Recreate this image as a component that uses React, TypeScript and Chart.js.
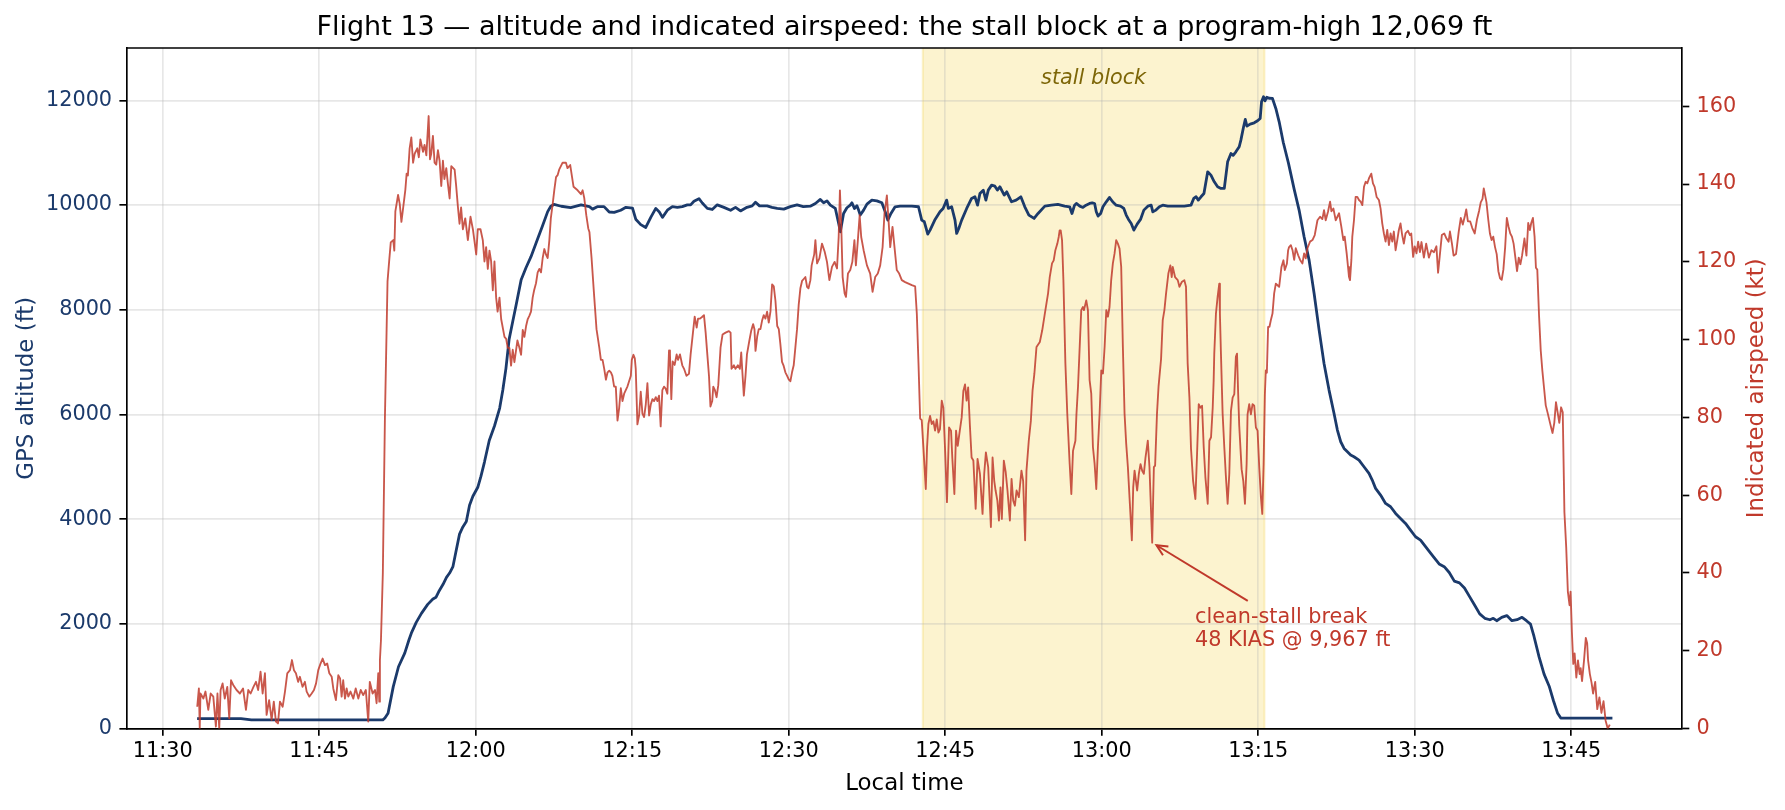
import React, { useEffect, useRef } from "react";
import { Chart, registerables } from "chart.js";

Chart.register(...registerables);

// ---------- data (time = minutes after midnight, local) ----------
const TITLE =
  "Flight 13 — altitude and indicated airspeed: the stall block at a program-high 12,069 ft";
const X_LABEL = "Local time";
const LEFT_LABEL = "GPS altitude (ft)";
const RIGHT_LABEL = "Indicated airspeed (kt)";
const X_TICKS = [690, 705, 720, 735, 750, 765, 780, 795, 810, 825];
const ALT_TICKS = [0, 2000, 4000, 6000, 8000, 10000, 12000];
const IAS_TICKS = [0, 20, 40, 60, 80, 100, 120, 140, 160];
const X_RANGE = [686.55, 835.62];
const ALT_RANGE = [0, 13000];
const IAS_RANGE = [0, 175];
const STALL_BLOCK = [762.85, 795.6];
const STALL_LABEL = "stall block";
const BREAK_POINT = [784.84, 47.8]; // time, KIAS
const BREAK_TEXT = ["clean-stall break", "48 KIAS @ 9,967 ft"];
const BREAK_TEXT_AT = [788.94, 21.2];
const BREAK_ARROW_FROM = [794.0, 32.8];

const ALT: [number, number][] = [
  [693.3, 190], [695, 190], [697.5, 188], [698.5, 165], [702, 163], [706, 163], [711.1, 165],
  [711.3, 200], [711.6, 290], [712.1, 800], [712.6, 1180], [713.2, 1440], [713.6, 1690],
  [713.83, 1821], [714.3, 2027], [714.8, 2200], [715.4, 2371], [715.9, 2475], [716.2, 2509],
  [716.45, 2612], [716.86, 2750], [717.2, 2887], [717.5, 2970], [717.82, 3094], [718.1, 3370],
  [718.45, 3713], [718.77, 3851], [719.1, 3954], [719.41, 4264], [719.73, 4436], [720.2, 4608],
  [720.5, 4815], [720.84, 5090], [721.3, 5503], [721.8, 5779], [722.3, 6122], [722.6, 6467],
  [722.9, 6880], [723.2, 7430], [723.55, 7774], [723.87, 8084], [724.35, 8566], [724.83, 8807],
  [725.3, 9013], [725.94, 9357], [726.4, 9598], [726.9, 9874], [727.2, 9977], [727.5, 10011],
  [728.2, 9977], [729.1, 9950], [730.1, 10004], [730.9, 9970], [731.2, 9922], [731.7, 9970],
  [732.3, 9970], [732.8, 9867], [733.27, 9860], [733.9, 9901], [734.4, 9956], [735.03, 9940],
  [735.34, 9729], [735.82, 9626], [736.3, 9571], [736.78, 9764], [737.26, 9936], [737.6, 9867],
  [737.9, 9764], [738.37, 9901], [738.85, 9970], [739.33, 9956], [739.8, 9970], [740.28, 10004],
  [740.6, 10004], [740.92, 10073], [741.4, 10121], [741.72, 10039], [742.2, 9936], [742.67, 9915],
  [743.15, 10004], [743.79, 9956], [744.43, 9901], [744.9, 9956], [745.38, 9887], [746.0, 9956],
  [746.5, 9984], [746.82, 10053], [747.2, 9984], [747.93, 9984], [748.4, 9956], [748.9, 9936],
  [749.53, 9922], [750.16, 9970], [750.8, 10004], [751.4, 9970], [752.07, 9979], [752.56, 10030],
  [753.03, 10107], [753.35, 10043], [753.67, 10080], [753.99, 9998], [754.47, 9935], [754.79, 9648],
  [754.95, 9489], [755.26, 9839], [755.58, 9948], [755.9, 9998], [756.06, 10043], [756.3, 9935],
  [756.54, 9986], [756.7, 9903], [756.86, 9808], [757.18, 9903], [757.5, 10018], [757.97, 10094],
  [758.45, 10080], [758.93, 10043], [759.25, 9871], [759.5, 9712], [759.8, 9839], [760.2, 9967],
  [760.68, 9979], [761.8, 9979], [762.44, 9967], [762.75, 9712], [763.0, 9680], [763.33, 9445],
  [763.55, 9521], [764.0, 9712], [764.5, 9871], [764.8, 9935], [765.14, 10094], [765.3, 9935],
  [765.62, 9967], [765.94, 9712], [766.1, 9457], [766.3, 9553], [766.58, 9712], [767.06, 9935],
  [767.53, 10126], [767.85, 10158], [768.1, 9998], [768.33, 10221], [768.65, 10285], [768.9, 10094],
  [769.13, 10285], [769.45, 10380], [769.76, 10360], [770.0, 10285], [770.24, 10349], [770.66, 10190],
  [770.9, 10253], [771.36, 10062], [771.8, 10094], [772.25, 10158], [772.63, 9967], [773.02, 9808],
  [773.52, 9744], [773.9, 9839], [774.55, 9979], [775.18, 9998], [775.8, 10011], [776.45, 9979],
  [776.93, 9967], [777.15, 9839], [777.4, 9998], [777.57, 10030], [777.9, 9979], [778.2, 9954],
  [778.5, 9998], [778.84, 10030], [779.1, 10043], [779.32, 10030], [779.48, 9871], [779.65, 9789],
  [779.9, 9839], [780.12, 9967], [780.44, 10062], [780.75, 10145], [781.05, 10062], [781.39, 9998],
  [781.8, 9979], [782.12, 9935], [782.35, 9808], [782.57, 9725], [782.83, 9648], [783.08, 9521],
  [783.4, 9636], [783.72, 9725], [784.04, 9903], [784.42, 9979], [784.74, 9998], [784.9, 9871],
  [785.2, 9903], [785.53, 9967], [785.85, 9998], [786.33, 9979], [786.81, 9979], [787.29, 9979],
  [787.92, 9979], [788.56, 9998], [788.82, 10126], [789.05, 10158], [789.26, 10094], [789.52, 10158],
  [789.8, 10221], [790.16, 10635], [790.47, 10571], [790.79, 10444], [791.11, 10349], [791.43, 10317],
  [791.75, 10317], [792.07, 10826], [792.39, 10985], [792.6, 10950], [792.86, 11017], [793.18, 11113],
  [793.34, 11240], [793.6, 11495], [793.76, 11635], [793.92, 11507], [794.23, 11546], [794.62, 11571],
  [794.94, 11609], [795.19, 11654], [795.32, 11972], [795.51, 12069], [795.65, 11990], [795.83, 12060],
  [796.05, 12040], [796.37, 12036], [796.69, 11845], [797.01, 11590], [797.4, 11200], [797.9, 10800],
  [798.45, 10300], [798.92, 9903], [799.4, 9394], [799.88, 8948], [800.36, 8311], [800.84, 7611],
  [801.31, 6974], [801.79, 6465], [802.27, 6019], [802.59, 5701], [802.91, 5478], [803.23, 5351],
  [803.55, 5287], [803.86, 5223], [804.18, 5191], [804.66, 5127], [805.14, 5000], [805.62, 4873],
  [805.93, 4746], [806.25, 4587], [806.73, 4459], [807.21, 4300], [807.69, 4236], [808.17, 4109],
  [808.64, 4013], [809.12, 3918], [809.6, 3791], [810.08, 3663], [810.56, 3600], [811.04, 3473],
  [811.69, 3308], [812.34, 3144], [812.83, 3091], [813.31, 2980], [813.8, 2815], [814.29, 2782],
  [814.77, 2684], [815.26, 2519], [815.75, 2354], [816.23, 2190], [816.72, 2105], [817.21, 2078],
  [817.53, 2105], [817.86, 2059], [818.34, 2124], [818.83, 2157], [819.32, 2059], [819.81, 2078],
  [820.29, 2124], [820.71, 2059], [821.1, 1993], [821.43, 1763], [821.92, 1368], [822.4, 1039],
  [822.89, 808], [823.3, 530], [823.7, 290], [824.0, 200], [826, 200], [828.95, 200],
];

const IAS: [number, number][] = [
  [693.31, 5.6], [693.47, 10.3], [693.55, 0], [693.62, 9], [693.9, 7.7], [694.1, 9.5], [694.37, 4.8],
  [694.6, 9], [694.85, 8.2], [695.1, 0.5], [695.25, 9], [695.42, 0], [695.55, 9.9], [695.74, 11.6],
  [695.95, 7.7], [696.19, 10.7], [696.38, 2.6], [696.55, 12.4], [696.76, 11.2], [697.08, 9.9],
  [697.4, 9], [697.7, 10.3], [697.98, 4.8], [698.2, 9.9], [698.43, 9], [698.7, 10.7], [698.94, 12],
  [699.15, 9.9], [699.38, 14.6], [699.58, 9], [699.8, 14.2], [699.96, 3.5], [700.2, 7.3], [700.44, 2.2],
  [700.65, 6.9], [700.85, 1.8], [701.05, 1.3], [701.24, 6.9], [701.5, 5.6], [701.72, 9.5], [701.94, 14.2],
  [702.2, 15], [702.39, 17.6], [702.58, 15], [702.77, 14.2], [702.98, 12], [703.15, 13.3], [703.4, 10.7],
  [703.63, 12], [703.8, 9.5], [704.05, 8.2], [704.28, 9], [704.5, 9.9], [704.7, 11.6], [704.91, 15],
  [705.13, 16.7], [705.33, 18], [705.55, 16.3], [705.77, 16.7], [705.97, 14.2], [706.2, 13.3],
  [706.35, 10.3], [706.6, 7.3], [706.83, 13.7], [707.0, 12.9], [707.15, 8.2], [707.3, 12.4],
  [707.47, 7.7], [707.63, 10.3], [707.79, 8.2], [708.0, 9.5], [708.27, 7.7], [708.5, 10.3],
  [708.75, 7.7], [708.98, 9.9], [709.22, 8.6], [709.47, 9.9], [709.7, 1.8], [709.85, 12], [710.12, 9],
  [710.35, 9.9], [710.5, 6.5], [710.66, 14.2], [710.76, 6.9], [710.82, 17.6], [710.92, 22.7],
  [711.1, 40], [711.3, 80], [711.55, 115], [711.7, 120], [711.86, 125], [712.1, 125.6], [712.2, 122.9],
  [712.3, 133], [712.56, 137.2], [712.72, 134.9], [712.88, 130.3], [713.07, 134.4], [713.26, 138.6],
  [713.38, 142.7], [713.5, 142.2], [713.67, 149.2], [713.83, 152], [714.0, 145.5], [714.15, 147.8],
  [714.4, 149.2], [714.55, 146.9], [714.7, 151.5], [714.95, 148.3], [715.1, 150.1], [715.27, 147.4],
  [715.49, 157.5], [715.62, 146.4], [715.74, 147.8], [715.9, 152.4], [716.06, 145.5], [716.22, 145],
  [716.38, 148.7], [716.54, 146], [716.7, 139.5], [716.86, 146], [717.0, 141.3], [717.18, 144.1],
  [717.34, 140], [717.5, 136.3], [717.66, 144.6], [717.98, 143.7], [718.13, 139.5], [718.3, 134],
  [718.45, 129.8], [718.6, 134], [718.77, 128.4], [719.0, 131.2], [719.25, 125.6], [719.5, 131.6],
  [719.73, 128.4], [719.89, 125.2], [720.05, 121.9], [720.2, 128.4], [720.46, 128.4], [720.68, 125.6],
  [720.84, 120.1], [721.0, 123.8], [721.16, 118.2], [721.32, 122.9], [721.48, 120.1], [721.64, 112.7],
  [721.8, 120.1], [721.96, 110.8], [722.1, 107.2], [722.28, 110.8], [722.44, 105.3], [722.76, 100.7],
  [722.92, 100.2], [723.07, 97.9], [723.23, 97.9], [723.39, 93.3], [723.55, 97.4], [723.71, 94.2],
  [724.0, 99.8], [724.19, 97.9], [724.35, 96.1], [724.51, 102.5], [724.67, 100.7], [724.83, 103.5],
  [724.99, 105.3], [725.15, 106.2], [725.3, 107.2], [725.46, 110.8], [725.6, 112.7], [725.78, 114.5],
  [725.94, 117.3], [726.1, 118.2], [726.26, 117.3], [726.42, 121], [726.58, 123.3], [726.74, 121.9],
  [726.9, 121], [727.06, 125.6], [727.2, 131.2], [727.38, 134.9], [727.54, 138.6], [727.7, 141.8],
  [727.85, 142.3], [728.0, 143.7], [728.33, 145.5], [728.65, 145.5], [728.8, 144.1], [729.06, 144.9],
  [729.38, 139.3], [729.77, 138.4], [730.09, 137.4], [730.25, 138.4], [730.4, 136.5], [730.6, 132],
  [730.79, 128.6], [730.9, 127.7], [731.1, 121.2], [731.36, 111], [731.58, 102.7], [731.84, 98.1],
  [732.0, 94.8], [732.16, 94.8], [732.32, 92.5], [732.48, 89.7], [732.64, 91.6], [732.8, 92],
  [732.96, 91.6], [733.1, 90.7], [733.27, 87.9], [733.43, 87.9], [733.59, 79.2], [733.75, 82.4],
  [733.91, 87.5], [734.07, 84.2], [734.23, 86.1], [734.55, 88], [734.87, 90.7], [734.96, 94.8],
  [735.12, 96.1], [735.25, 95.2], [735.34, 92.5], [735.5, 78.2], [735.66, 80.5], [735.82, 86.6],
  [735.98, 81], [736.14, 80.1], [736.3, 83.3], [736.46, 88.8], [736.62, 80.5], [736.78, 83.3],
  [736.94, 84.7], [737.1, 84.2], [737.26, 85.2], [737.42, 84.2], [737.57, 85.6], [737.73, 77.7],
  [737.89, 87], [738.05, 87.9], [738.21, 87.4], [738.37, 86.1], [738.53, 97.2], [738.62, 96.3],
  [738.75, 84.7], [738.88, 94.4], [739.07, 93.5], [739.26, 96.2], [739.39, 94.8], [739.58, 96.2],
  [739.8, 93.4], [739.97, 92.5], [740.2, 90.7], [740.44, 91.2], [740.6, 96.2], [740.86, 102.7],
  [740.99, 105.9], [741.18, 103.1], [741.31, 105.4], [741.5, 105.4], [741.72, 105.9], [741.88, 106.3],
  [742.04, 101.8], [742.2, 96.2], [742.36, 90.7], [742.5, 82.8], [742.67, 84.2], [742.77, 87.9],
  [742.93, 87], [743.09, 85.2], [743.25, 88.3], [743.47, 98], [743.66, 101.3], [743.95, 101.8],
  [744.27, 102.2], [744.43, 101.8], [744.52, 92.5], [744.75, 93.4], [744.9, 92.5], [745.13, 93.4],
  [745.32, 92.5], [745.45, 96.7], [745.54, 92.5], [745.7, 85.6], [745.86, 90.7], [746.0, 96.2],
  [746.24, 99.9], [746.4, 102.2], [746.59, 104], [746.72, 102.7], [746.82, 97.1], [746.98, 100.8],
  [747.13, 102.7], [747.29, 102.7], [747.45, 104.9], [747.61, 106.3], [747.77, 105.4], [747.93, 107.2],
  [748.09, 104.4], [748.25, 107.2], [748.41, 114.2], [748.57, 113.7], [748.73, 110], [748.9, 103.5],
  [749.05, 102.7], [749.2, 98.9], [749.36, 94.3], [749.5, 93.4], [749.68, 91.6], [749.85, 90.7],
  [750.0, 89.8], [750.16, 89.3], [750.32, 91.6], [750.48, 93.4], [750.64, 98], [750.8, 102.7],
  [750.96, 109], [751.12, 113.2], [751.28, 115.1], [751.44, 115.6], [751.6, 116.1], [751.76, 113.6],
  [751.9, 113.2], [752.08, 115.3], [752.2, 119.1], [752.45, 122], [752.56, 125.6], [752.72, 119.6],
  [752.94, 120.9], [753.19, 124.7], [753.45, 122.6], [753.67, 120], [753.9, 115.3], [754.15, 118.7],
  [754.4, 120], [754.63, 118.3], [754.79, 126.4], [754.91, 138.4], [755.04, 129], [755.17, 116.1],
  [755.36, 111.9], [755.49, 111], [755.68, 117], [755.9, 117.9], [756.1, 120], [756.3, 125.6],
  [756.44, 119.1], [756.63, 125.6], [756.8, 132], [756.95, 126.4], [757.18, 123], [757.5, 119.1],
  [757.81, 117], [758.04, 112.3], [758.29, 116.1], [758.54, 117], [758.77, 119.1], [759.0, 123.8],
  [759.18, 132.4], [759.41, 137.1], [759.57, 130.7], [759.73, 123.8], [759.95, 129], [760.14, 123.8],
  [760.36, 117.9], [760.59, 117], [760.84, 115.3], [761.16, 114.8], [761.48, 114.4], [761.8, 114],
  [762.12, 113.7], [762.28, 106.7], [762.44, 93.9], [762.6, 79.7], [762.75, 79.3], [762.91, 72.3],
  [763.14, 61.6], [763.26, 72.3], [763.39, 78.3], [763.55, 80.4], [763.71, 78.3], [763.87, 79],
  [764.03, 76.6], [764.19, 79.5], [764.35, 76.1], [764.5, 77], [764.67, 84.3], [764.82, 82.5],
  [764.98, 72.3], [765.17, 58.2], [765.37, 77.4], [765.56, 76.6], [765.68, 69.7], [765.88, 60.3],
  [766.04, 76.6], [766.2, 72.7], [766.42, 77], [766.58, 80], [766.74, 86.8], [766.9, 88.5],
  [767.05, 84.3], [767.2, 87.7], [767.37, 77.8], [767.53, 69.7], [767.7, 68.9], [767.92, 56.5],
  [768.1, 69.3], [768.33, 65.5], [768.58, 55.2], [768.74, 65.5], [768.9, 71], [769.12, 67.2],
  [769.38, 51.8], [769.54, 69.7], [769.7, 63.7], [769.83, 61.2], [770.0, 58.6], [770.15, 53.5],
  [770.3, 62], [770.43, 53.9], [770.62, 68.9], [770.8, 65.9], [770.97, 61.2], [771.2, 53.5],
  [771.36, 64.2], [771.52, 58.6], [771.68, 57.3], [771.84, 61.2], [772.06, 59.5], [772.31, 66.3],
  [772.47, 63.7], [772.66, 48.4], [772.79, 66.3], [773.01, 74], [773.21, 79.1], [773.37, 86.8],
  [773.55, 91.3], [773.75, 98.1], [774.07, 99.4], [774.3, 102.4], [774.55, 106.7], [774.86, 111.9],
  [775.02, 116.1], [775.24, 119.6], [775.4, 120.4], [775.56, 123], [775.75, 124.7], [775.88, 126.4],
  [775.97, 128.1], [776.07, 128.1], [776.2, 125.6], [776.33, 115.3], [776.52, 93.9], [776.7, 81],
  [776.93, 68.1], [777.09, 60.3], [777.25, 71.4], [777.48, 74], [777.58, 80.8], [777.73, 87.9],
  [777.89, 98.1], [778.04, 107.6], [778.2, 108.4], [778.3, 107.6], [778.52, 110.1], [778.68, 107.6],
  [778.84, 89.6], [779.0, 86.1], [779.16, 72.4], [779.32, 68.1], [779.48, 61.6], [779.64, 72.4],
  [779.8, 81], [779.96, 92.1], [780.12, 91.3], [780.28, 98.1], [780.44, 107.6], [780.6, 105.9],
  [780.75, 108.4], [780.91, 115.3], [781.07, 119.6], [781.23, 122.1], [781.39, 125.6], [781.55, 124.7],
  [781.71, 123.4], [781.87, 118.7], [782.03, 98.1], [782.19, 81], [782.35, 73.2], [782.51, 67.2],
  [782.7, 57.8], [782.89, 48.4], [783.02, 62], [783.15, 66.3], [783.28, 63.7], [783.4, 61.2],
  [783.56, 65.5], [783.72, 68], [783.88, 66.3], [784.04, 65.5], [784.2, 69.7], [784.42, 74],
  [784.58, 67.2], [784.68, 59.5], [784.84, 47.8], [785.0, 67.2], [785.12, 67.6], [785.3, 81],
  [785.45, 88], [785.69, 95], [785.85, 105], [786.01, 107.6], [786.17, 111.9], [786.39, 117],
  [786.58, 119.1], [786.71, 116.1], [786.81, 118.7], [787.03, 116.1], [787.29, 115.3], [787.45, 113.6],
  [787.67, 114.8], [787.92, 115.3], [788.08, 113.6], [788.24, 93.9], [788.41, 85], [788.56, 72],
  [788.76, 63.7], [788.98, 59], [789.14, 70.6], [789.3, 83.4], [789.46, 82.5], [789.62, 83],
  [789.78, 72.3], [789.94, 64.6], [790.16, 57.8], [790.32, 74], [790.48, 74.9], [790.64, 82.5],
  [790.73, 89.4], [790.79, 96.4], [790.95, 106.7], [791.11, 111], [791.27, 114.4], [791.33, 106.7],
  [791.43, 96.4], [791.59, 81], [791.75, 72.4], [791.9, 65], [792.07, 57.8], [792.23, 65.5],
  [792.39, 81.7], [792.55, 85.1], [792.71, 86], [792.86, 95.6], [792.97, 96.4], [793.08, 86.1],
  [793.18, 78], [793.41, 66.7], [793.57, 63.7], [793.73, 57.8], [793.89, 68], [793.98, 80.8],
  [794.14, 83.4], [794.3, 80.8], [794.46, 83.4], [794.62, 83], [794.78, 77.4], [794.94, 76.6],
  [795.1, 67.2], [795.26, 59.5], [795.39, 55.2], [795.52, 68], [795.64, 86], [795.73, 92.1],
  [795.83, 91.5], [795.95, 103.3], [796.08, 103.3], [796.21, 105], [796.37, 106.7], [796.53, 111.9],
  [796.69, 114.4], [796.85, 114], [797.01, 113.6], [797.23, 118.7], [797.42, 120.4], [797.55, 117.9],
  [797.75, 119.5], [797.87, 123], [797.96, 123.8], [798.13, 124.3], [798.29, 123], [798.45, 120.5],
  [798.6, 123.5], [798.83, 121.7], [799.02, 120.5], [799.24, 119.6], [799.4, 122.2], [799.56, 120.9],
  [799.72, 123.5], [799.97, 125.2], [800.2, 125.6], [800.42, 126.9], [800.68, 130.7], [800.93, 131.6],
  [801.15, 131], [801.31, 133.3], [801.47, 130.7], [801.69, 132.9], [801.89, 135.5], [802.02, 133],
  [802.21, 133.7], [802.43, 130.7], [802.59, 131.6], [802.75, 132.5], [802.97, 129], [803.16, 125.6],
  [803.29, 126.5], [803.48, 122.2], [803.61, 118.7], [803.7, 116.2], [803.8, 115.3], [803.93, 120.5],
  [804.02, 126.5], [804.18, 130.7], [804.34, 136.7], [804.5, 136.7], [804.66, 135.9], [804.82, 135.5],
  [804.98, 134.6], [805.14, 139.3], [805.3, 140.6], [805.46, 140.2], [805.62, 141.5], [805.84, 142.7],
  [806.0, 140.2], [806.16, 139.3], [806.35, 136.7], [806.57, 135.9], [806.73, 133.7], [806.89, 129.9],
  [807.05, 127.3], [807.21, 125.2], [807.37, 128.2], [807.53, 124.3], [807.69, 127.3], [807.85, 125.2],
  [808.0, 127.8], [808.17, 123], [808.33, 125.6], [808.48, 128.2], [808.64, 129.9], [808.8, 126.9],
  [808.96, 124.7], [809.12, 127.3], [809.35, 128], [809.54, 126.9], [809.67, 127.3], [809.85, 121.3],
  [810.0, 124], [810.17, 122.2], [810.33, 125.2], [810.5, 122.5], [810.65, 125.1], [810.88, 121.1],
  [811.1, 124.7], [811.36, 121.1], [811.6, 123], [811.85, 122.5], [812.08, 124], [812.24, 117.2],
  [812.4, 121.5], [812.6, 126.9], [812.83, 127.3], [813.05, 126], [813.25, 125.2], [813.38, 127.8],
  [813.57, 124.7], [813.73, 121.6], [813.96, 122], [814.22, 127.8], [814.42, 131.3], [814.61, 129.6],
  [814.81, 131.8], [814.94, 133.5], [815.1, 130.4], [815.32, 130.4], [815.52, 128.7], [815.75, 127.3],
  [815.97, 130.9], [816.17, 133.1], [816.33, 135.3], [816.5, 136.2], [816.62, 138.9], [816.75, 137.1],
  [816.88, 135.3], [817.05, 130.9], [817.21, 127.3], [817.37, 125.6], [817.53, 126.5], [817.7, 123.8],
  [817.86, 122], [818.02, 117.6], [818.18, 115.8], [818.34, 115.4], [818.5, 118], [818.67, 123.8],
  [818.83, 131.3], [818.99, 129.1], [819.16, 127.3], [819.32, 126.5], [819.48, 124.7], [819.65, 121.1],
  [819.81, 117.6], [819.97, 121.1], [820.13, 119.4], [820.29, 121.6], [820.52, 126], [820.71, 121.6],
  [820.88, 130], [821.04, 128.2], [821.17, 130], [821.33, 131.3], [821.49, 126.5], [821.62, 118.5],
  [821.75, 118], [821.92, 106.1], [822.08, 97.2], [822.24, 91.9], [822.4, 87.5], [822.56, 83.1],
  [822.73, 81.3], [822.89, 79.5], [823.05, 77.7], [823.21, 76], [823.38, 78.6], [823.54, 83.9],
  [823.7, 81.3], [823.86, 78.6], [824.03, 82.6], [824.19, 81.3], [824.35, 55.6], [824.52, 46.7],
  [824.68, 35.2], [824.84, 31.7], [824.94, 35.2], [825.07, 24.6], [825.2, 16.6], [825.33, 19.3],
  [825.49, 13.1], [825.65, 17.5], [825.81, 14], [825.91, 15.5], [826.04, 12.2], [826.23, 17.5],
  [826.4, 23.3], [826.53, 21.9], [826.62, 17.5], [826.79, 14], [826.95, 11.8], [827.1, 9],
  [827.3, 12], [827.5, 5], [827.7, 8], [827.9, 4], [828.1, 7], [828.3, 2], [828.5, 0], [828.7, 1],
];

// ---------- styles ----------
const FONT = "'DejaVu Sans', 'Liberation Sans', sans-serif";
const BLUE = "#1b3a6b";
const RED_LINE = "rgba(192,57,43,0.85)";
const RED_TEXT = "#c0392b";
const GRID = "rgba(176,176,176,0.3)";
const SPAN_FILL = "rgba(241,196,15,0.2)";
const SPAN_TEXT = "#7d6608";

const W = 1785;
const H = 810;

const fmtTime = (v: number) => {
  const h = Math.floor(v / 60);
  const m = Math.round(v - h * 60);
  return `${h}:${String(m).padStart(2, "0")}`;
};

const overlay = {
  id: "overlay",
  beforeDraw(chart: any) {
    const { ctx, chartArea } = chart;
    const xs = chart.scales.x;
    const x0 = xs.getPixelForValue(STALL_BLOCK[0]);
    const x1 = xs.getPixelForValue(STALL_BLOCK[1]);
    ctx.save();
    ctx.fillStyle = SPAN_FILL;
    ctx.fillRect(x0, chartArea.top, x1 - x0, chartArea.bottom - chartArea.top);
    ctx.strokeStyle = SPAN_FILL;
    ctx.lineWidth = 2;
    ctx.beginPath();
    ctx.moveTo(x0, chartArea.top);
    ctx.lineTo(x0, chartArea.bottom);
    ctx.moveTo(x1, chartArea.top);
    ctx.lineTo(x1, chartArea.bottom);
    ctx.stroke();
    ctx.restore();
  },
  afterDraw(chart: any) {
    const { ctx, chartArea } = chart;
    const xs = chart.scales.x;
    const ys = chart.scales.y2;
    ctx.save();
    // top spine
    ctx.strokeStyle = "#000";
    ctx.lineWidth = 1.67;
    ctx.beginPath();
    ctx.moveTo(chartArea.left, chartArea.top);
    ctx.lineTo(chartArea.right, chartArea.top);
    ctx.stroke();

    // title
    const cx = (chartArea.left + chartArea.right) / 2;
    ctx.fillStyle = "#000";
    ctx.textAlign = "center";
    ctx.textBaseline = "alphabetic";
    ctx.font = `27px ${FONT}`;
    ctx.fillText(TITLE, cx, 35);

    // x label
    ctx.font = `22.9px ${FONT}`;
    ctx.fillText(X_LABEL, cx, 790);

    // y labels
    const cy = (chartArea.top + chartArea.bottom) / 2;
    ctx.save();
    ctx.translate(32.5, cy);
    ctx.rotate(-Math.PI / 2);
    ctx.fillStyle = BLUE;
    ctx.fillText(LEFT_LABEL, 0, 0);
    ctx.restore();
    ctx.save();
    ctx.translate(1762.5, cy);
    ctx.rotate(-Math.PI / 2);
    ctx.fillStyle = RED_TEXT;
    ctx.fillText(RIGHT_LABEL, 0, 0);
    ctx.restore();

    // span label
    const sx = (xs.getPixelForValue(STALL_BLOCK[0]) + xs.getPixelForValue(STALL_BLOCK[1])) / 2;
    ctx.font = `italic 20.8px ${FONT}`;
    ctx.fillStyle = SPAN_TEXT;
    ctx.textAlign = "center";
    ctx.fillText(STALL_LABEL, sx, 84);

    // annotation
    const px = xs.getPixelForValue(BREAK_POINT[0]);
    const py = ys.getPixelForValue(BREAK_POINT[1]);
    const tx = xs.getPixelForValue(BREAK_ARROW_FROM[0]);
    const ty = ys.getPixelForValue(BREAK_ARROW_FROM[1]);
    const dx = tx - px;
    const dy = ty - py;
    const len = Math.hypot(dx, dy);
    const ux = dx / len;
    const uy = dy / len;
    const hx = px + ux * 5;
    const hy = py + uy * 5;
    ctx.strokeStyle = RED_TEXT;
    ctx.lineWidth = 2;
    ctx.beginPath();
    ctx.moveTo(tx, ty);
    ctx.lineTo(hx, hy);
    ctx.stroke();
    const hl = 12;
    const ang = Math.atan2(uy, ux);
    const a1 = ang + 0.45;
    const a2 = ang - 0.45;
    ctx.beginPath();
    ctx.moveTo(hx + Math.cos(a1) * hl, hy + Math.sin(a1) * hl);
    ctx.lineTo(hx, hy);
    ctx.lineTo(hx + Math.cos(a2) * hl, hy + Math.sin(a2) * hl);
    ctx.stroke();

    ctx.font = `20.8px ${FONT}`;
    ctx.fillStyle = RED_TEXT;
    ctx.textAlign = "left";
    const ax = xs.getPixelForValue(BREAK_TEXT_AT[0]);
    const ay = ys.getPixelForValue(BREAK_TEXT_AT[1]);
    ctx.fillText(BREAK_TEXT[0], ax, ay - 23.3);
    ctx.fillText(BREAK_TEXT[1], ax, ay);
    ctx.restore();
  },
};

export default function App() {
  const ref = useRef<HTMLCanvasElement | null>(null);

  useEffect(() => {
    document.body.style.margin = "0";
    const canvas = ref.current;
    if (!canvas) return;
    const tickFont = { family: FONT, size: 20.8 };
    const chart = new Chart(canvas, {
      type: "line",
      data: {
        datasets: [
          {
            label: "Indicated airspeed",
            data: IAS.map(([x, y]) => ({ x, y })),
            yAxisID: "y2",
            borderColor: RED_LINE,
            borderWidth: 1.85,
            pointRadius: 0,
            tension: 0,
            borderJoinStyle: "round",
            fill: false,
          },
          {
            label: "GPS altitude",
            data: ALT.map(([x, y]) => ({ x, y })),
            yAxisID: "y",
            borderColor: BLUE,
            borderWidth: 2.8,
            pointRadius: 0,
            tension: 0,
            borderJoinStyle: "round",
            fill: false,
          },
        ],
      },
      options: {
        responsive: false,
        animation: false,
        events: [],
        layout: { padding: { top: 48, left: 0, right: 0, bottom: 0 } },
        plugins: {
          legend: { display: false },
          tooltip: { enabled: false },
          title: { display: false },
        },
        scales: {
          x: {
            type: "linear",
            min: X_RANGE[0],
            max: X_RANGE[1],
            afterBuildTicks: (s: any) => {
              s.ticks = X_TICKS.map((v) => ({ value: v }));
            },
            afterFit: (s: any) => {
              s.height = H - 728.5;
            },
            ticks: {
              callback: (v: any) => fmtTime(Number(v)),
              font: tickFont,
              color: "#000",
              padding: 3.5,
              maxRotation: 0,
              autoSkip: false,
            },
            grid: {
              color: GRID,
              lineWidth: 1.67,
              tickColor: "#000",
              tickWidth: 1.67,
              tickLength: 7.3,
            },
            border: { color: "#000", width: 1.67 },
          },
          y: {
            type: "linear",
            position: "left",
            min: ALT_RANGE[0],
            max: ALT_RANGE[1],
            afterBuildTicks: (s: any) => {
              s.ticks = ALT_TICKS.map((v) => ({ value: v }));
            },
            afterFit: (s: any) => {
              s.width = 126.7;
            },
            ticks: {
              callback: (v: any) => String(v),
              font: tickFont,
              color: BLUE,
              padding: 7.3,
            },
            grid: {
              color: GRID,
              lineWidth: 1.67,
              tickColor: "#000",
              tickWidth: 1.67,
              tickLength: 7.3,
            },
            border: { color: "#000", width: 1.67 },
          },
          y2: {
            type: "linear",
            position: "right",
            min: IAS_RANGE[0],
            max: IAS_RANGE[1],
            afterBuildTicks: (s: any) => {
              s.ticks = IAS_TICKS.map((v) => ({ value: v }));
            },
            afterFit: (s: any) => {
              s.width = W - 1682;
            },
            ticks: {
              callback: (v: any) => String(v),
              font: tickFont,
              color: RED_TEXT,
              padding: 7.3,
            },
            grid: {
              drawOnChartArea: false,
              tickColor: "#000",
              tickWidth: 1.67,
              tickLength: 7.3,
            },
            border: { color: "#000", width: 1.67 },
          },
        },
      },
      plugins: [overlay],
    } as any);
    return () => chart.destroy();
  }, []);

  return (
    <div style={{ width: W, height: H, background: "#fff" }}>
      <canvas ref={ref} width={W} height={H} style={{ width: W, height: H, display: "block" }} />
    </div>
  );
}
